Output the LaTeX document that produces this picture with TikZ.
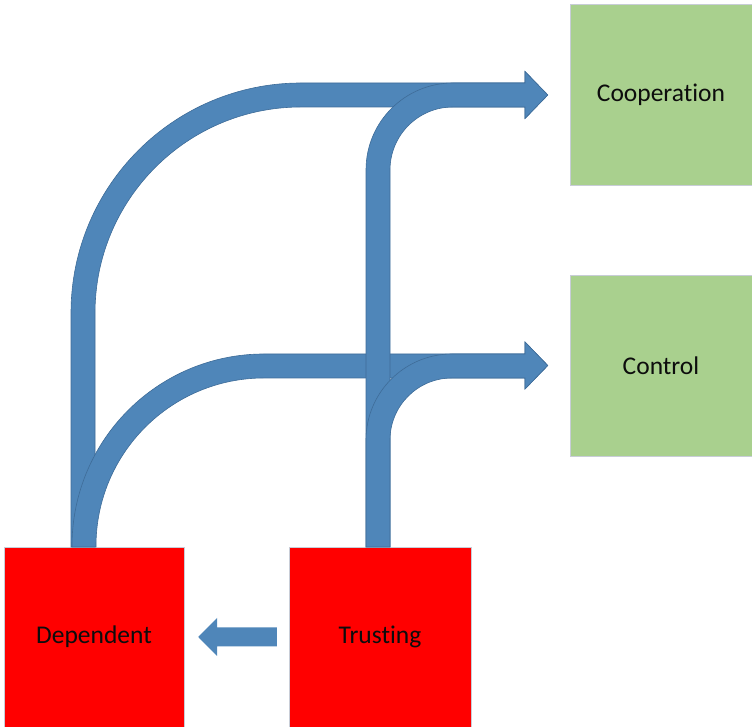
\documentclass[tikz,border=0pt]{standalone}
\usepackage{fontspec}
\setmainfont[Ligatures=NoCommon]{Carlito}
\definecolor{arrowfill}{RGB}{79,134,185}
\definecolor{arrowline}{RGB}{62,108,152}
\definecolor{boxgreen}{RGB}{169,208,142}
\definecolor{boxred}{RGB}{255,0,0}
\definecolor{boxline}{RGB}{200,205,215}
\definecolor{textcol}{RGB}{13,13,13}
\begin{document}
\begin{tikzpicture}[x=1pt,y=1pt,
  box/.style={rectangle, inner sep=0pt, draw=boxline, line width=0.5pt,
    text=textcol, font=\fontsize{25.5}{30}\selectfont},
  greenbox/.style={box, fill=boxgreen, minimum width=182pt, minimum height=181pt},
  redbox/.style={box, fill=boxred, minimum width=180pt, minimum height=180pt},
  blockarrow/.style={fill=arrowfill, draw=arrowline, line width=0.6pt, line join=miter}
]
\useasboundingbox (0,0) rectangle (752,727);

% boxes
\node[greenbox] (coop) at (661,632) {Cooperation};
\node[greenbox] (ctrl) at (661,361.5) {Control};
\node[redbox] (dep) at (94,90) {Dependent};
\node[redbox, minimum width=182pt] (trust) at (380,90) {Trusting};

% Dependent -> Cooperation
\draw[blockarrow] (71,180) -- (71,414) arc[start angle=180,end angle=90,radius=230]
  -- (525,644) -- (525,655.5) -- ([xshift=-22pt]coop.west) -- (525,608.5) -- (525,620)
  -- (301,620) arc[start angle=90,end angle=180,radius=206] -- (95,180) -- cycle;

% Dependent -> Control
\draw[blockarrow] (72,180) -- (72,181) arc[start angle=180,end angle=90,radius=192]
  -- (525,373) -- (525,385) -- ([xshift=-22pt]ctrl.west) -- (525,338) -- (525,349)
  -- (264,349) arc[start angle=90,end angle=180,radius=168] -- (96,180) -- cycle;

% Trusting -> Cooperation
\draw[blockarrow] (366,180) -- (366,557) arc[start angle=180,end angle=90,radius=87]
  -- (525,644) -- (525,655.5) -- ([xshift=-22pt]coop.west) -- (525,608.5) -- (525,620)
  -- (453,620) arc[start angle=90,end angle=180,radius=63] -- (390,180) -- cycle;

% Trusting -> Control
\draw[blockarrow] (366,180) -- (366,287) arc[start angle=180,end angle=90,radius=86]
  -- (525,373) -- (525,385) -- ([xshift=-22pt]ctrl.west) -- (525,338) -- (525,349)
  -- (452,349) arc[start angle=90,end angle=180,radius=62] -- (390,180) -- cycle;

% Trusting -> Dependent
\draw[blockarrow, draw=none] ([xshift=-12pt,yshift=9.5pt]trust.west) -- (217,99.5) -- (217,109)
  -- ([xshift=14pt]dep.east) -- (217,71) -- (217,80.5) -- ([xshift=-12pt,yshift=-9.5pt]trust.west) -- cycle;
\end{tikzpicture}
\end{document}
